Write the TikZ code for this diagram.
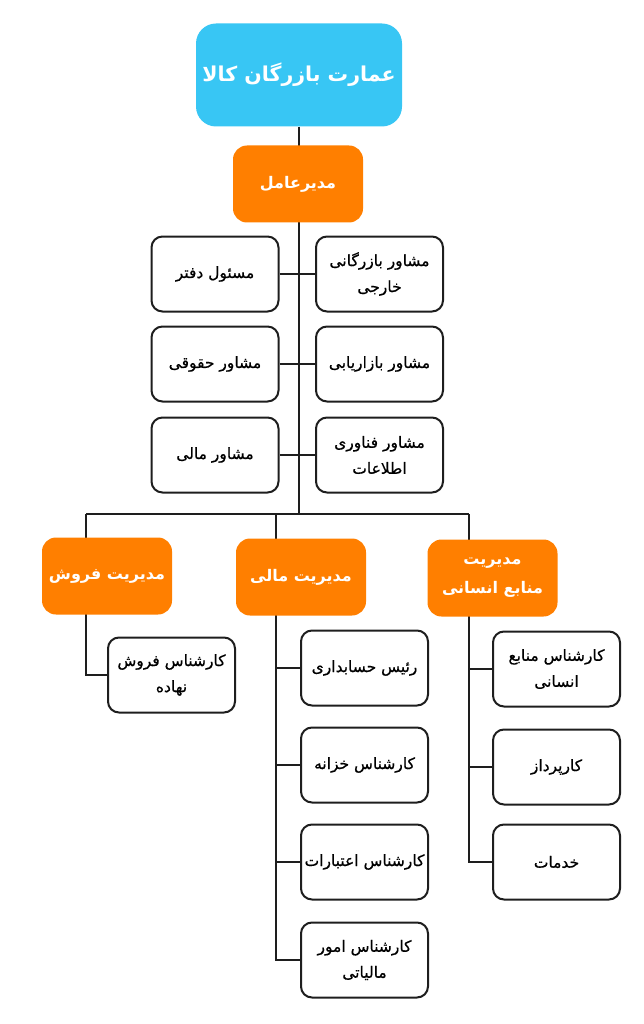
\documentclass[tikz,border=0pt]{standalone}
\usepackage{fontspec}
\usetikzlibrary{backgrounds}
\newfontfamily\fafont[Script=Arabic]{DejaVu Sans}
\newfontfamily\fabodyfont[Script=Arabic,FakeBold=0.6]{DejaVu Sans}
\TeXXeTstate=1
\newcommand{\fatext}[1]{\beginR#1\endR}
\definecolor{titleblue}{HTML}{38C6F4}
\definecolor{mgrorange}{HTML}{FF7F00}
\definecolor{linegray}{HTML}{1E1E1E}
\tikzset{
	titlebox/.style={fill=titleblue, rounded corners=20pt, minimum width=206pt, minimum height=103pt,
		text=white, font=\fafont\bfseries\fontsize{20.5}{28}\selectfont},
	mgrbox/.style={fill=mgrorange, rounded corners=14pt, minimum width=130pt, minimum height=77pt,
		text=white, align=center, font=\fafont\bfseries\fontsize{16}{29}\selectfont},
	unitbox/.style={draw=linegray, line width=2pt, fill=white, rounded corners=11pt, minimum width=127pt,
		minimum height=75pt, inner sep=1pt, align=center, font=\fabodyfont\fontsize{15.5}{26}\selectfont},
	link/.style={draw=linegray, line width=2pt}
}
\begin{document}
\begin{tikzpicture}[x=1pt,y=-1pt]
		\useasboundingbox (0,0) rectangle (644,1024);

		% Top of the chart
		\node[titlebox] (title) at (299,75) {\fatext{عمارت بازرگان کالا}};
		\node[mgrbox] (ceo) at (298,184) {\fatext{مدیرعامل}};

		% Advisors -- left side
		\node[unitbox] (office) at (215,274) {\fatext{مسئول دفتر}};
		\node[unitbox] (legal) at (215,364) {\fatext{مشاور حقوقی}};
		\node[unitbox] (finadv) at (215,455) {\fatext{مشاور مالی}};

		% Advisors -- right side
		\node[unitbox] (trade) at (379.5,274) {\fatext{مشاور بازرگانی}\\\fatext{خارجی}};
		\node[unitbox] (market) at (379.5,364) {\fatext{مشاور بازاریابی}};
		\node[unitbox] (itadv) at (379.5,455) {\fatext{مشاور فناوری}\\\fatext{اطلاعات}};

		% Managers
		\node[mgrbox] (sales) at (107,576) {\fatext{مدیریت فروش}};
		\node[mgrbox] (finance) at (301,577) {\fatext{مدیریت مالی}};
		\node[mgrbox] (hr) at (492.5,578) {\fatext{مدیریت}\\\fatext{منابع انسانی}};

		% -- sales staff
		\node[unitbox] (sales1) at (171.5,675) {\fatext{کارشناس فروش}\\\fatext{نهاده}};

		% -- finance staff
		\node[unitbox] (fin1) at (364.5,668) {\fatext{رئیس حسابداری}};
		\node[unitbox] (fin2) at (364.5,765) {\fatext{کارشناس خزانه}};
		\node[unitbox] (fin3) at (364.5,862) {\fatext{کارشناس اعتبارات}};
		\node[unitbox] (fin4) at (364.5,960) {\fatext{کارشناس امور}\\\fatext{مالیاتی}};

		% -- hr staff
		\node[unitbox] (hr1) at (556.5,669) {\fatext{کارشناس منابع}\\\fatext{انسانی}};
		\node[unitbox] (hr2) at (556.5,767) {\fatext{کارپرداز}};
		\node[unitbox] (hr3) at (556.5,862) {\fatext{خدمات}};

		% Bus points
		\coordinate (busM) at (299,514);
		\coordinate (busS) at (86,514);
		\coordinate (busF) at (276,514);
		\coordinate (busH) at (469,514);

		% Connectors
		\begin{scope}[on background layer]
			\draw[link] (title.south) -- (busM);
			\draw[link] (office.east) -- (trade.west);
			\draw[link] (legal.east) -- (market.west);
			\draw[link] (finadv.east) -- (itadv.west);
			\draw[link] (busS) -- (busH);

			\draw[link] (busS) |- (sales1.west);

			\draw[link] (busF) |- (fin4.west);
			\draw[link] (busF |- fin1.west) -- (fin1.west);
			\draw[link] (busF |- fin2.west) -- (fin2.west);
			\draw[link] (busF |- fin3.west) -- (fin3.west);

			\draw[link] (busH) |- (hr3.west);
			\draw[link] (busH |- hr1.west) -- (hr1.west);
			\draw[link] (busH |- hr2.west) -- (hr2.west);
		\end{scope}
	\end{tikzpicture}
\end{document}
